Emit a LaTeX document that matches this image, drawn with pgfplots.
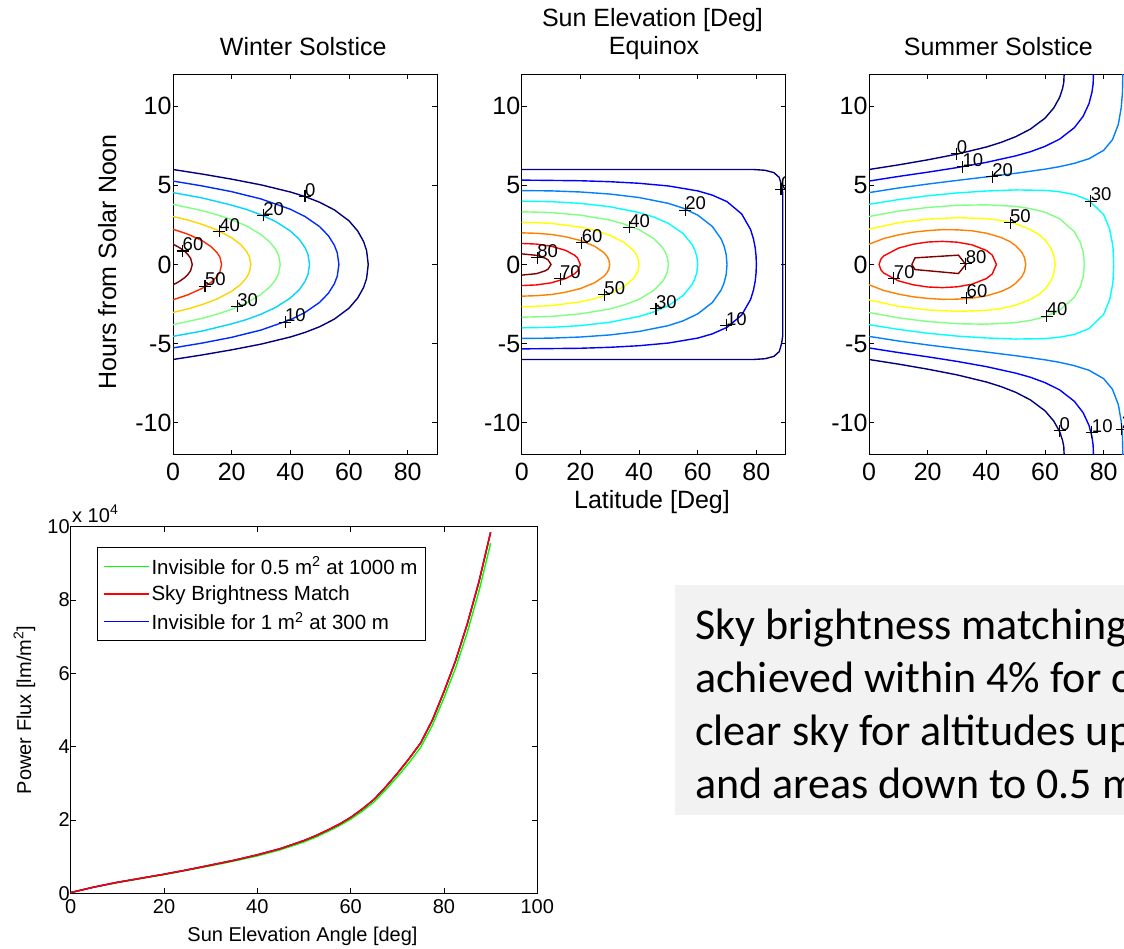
\documentclass[border=0pt]{standalone}
\usepackage{fontspec}
\setmainfont{Liberation Sans}
\newfontfamily\carlito{Carlito}
\usepackage{pgfplots}
\pgfplotsset{compat=1.18}

\definecolor{w0}{rgb}{0,0,0.5}
\definecolor{w10}{rgb}{0,0.167,1}
\definecolor{w20}{rgb}{0,0.833,1}
\definecolor{w30}{rgb}{0.5,1,0.5}
\definecolor{w40}{rgb}{1,0.833,0}
\definecolor{w50}{rgb}{1,0.167,0}
\definecolor{w60}{rgb}{0.5,0,0}
\definecolor{e0}{rgb}{0,0,0.5}
\definecolor{e10}{rgb}{0,0,1}
\definecolor{e20}{rgb}{0,0.5,1}
\definecolor{e30}{rgb}{0,1,1}
\definecolor{e40}{rgb}{0.5,1,0.5}
\definecolor{e50}{rgb}{1,1,0}
\definecolor{e60}{rgb}{1,0.5,0}
\definecolor{e70}{rgb}{1,0,0}
\definecolor{e80}{rgb}{0.5,0,0}
\definecolor{boxgray}{RGB}{242,242,242}

\newcommand{\topfont}{\fontsize{25}{30}\selectfont}
\newcommand{\botfont}{\fontsize{20}{24}\selectfont}
\newcommand{\legfont}{\fontsize{20.5}{24}\selectfont}
\newcommand{\lblfont}{\fontsize{18.5}{22}\selectfont}
\newcommand{\boxfont}{\carlito\fontsize{44}{53}\selectfont}

\pgfplotsset{
  contourax/.style={
    scale only axis, width=264pt, height=380pt, anchor=south west,
    xmin=0, xmax=90, ymin=-12, ymax=12,
    xtick={0,20,40,60,80}, xticklabels={0,20,40,60,80},
    ytick={-10,-5,0,5,10}, yticklabels={-10,-5,0,5,10},
    tick align=inside, major tick length=5pt,
    tick style={black, line width=0.8pt},
    axis line style={black, line width=0.9pt},
    tick label style={font=\topfont},
    xticklabel style={yshift=-5pt},
    yticklabel style={xshift=2pt},
    clip marker paths=true,
    every axis plot/.append style={line width=1.4pt},
  },
  lab/.style={only marks, mark=+, mark size=6pt, black, mark options={line width=1.1pt},
    nodes near coords, point meta=explicit symbolic,
    nodes near coords style={font=\lblfont, anchor=south west, inner sep=0.5pt, xshift=-1pt, yshift=-1pt, black}},
}

\begin{document}
\begin{tikzpicture}
\path[use as bounding box] (0pt,0pt) rectangle (1124pt,-949pt);
\clip (0pt,0pt) rectangle (1124pt,-949pt);
\fill[white] (0pt,0pt) rectangle (1124pt,-949pt);

% text box
\fill[boxgray] (675pt,-585pt) rectangle (1140pt,-815pt);
\node[anchor=base west, font=\boxfont, inner sep=0pt] at (695pt,-639pt) {Sky brightness matching};
\node[anchor=base west, font=\boxfont, inner sep=0pt] at (695pt,-692pt) {achieved within 4\% for c};
\node[anchor=base west, font=\boxfont, inner sep=0pt] at (695pt,-745pt) {clear sky for altitudes up};
\node[anchor=base west, font=\boxfont, inner sep=0pt] at (695pt,-798pt) {and areas down to 0.5 m};

% ---------------- Winter ----------------
\begin{axis}[contourax, at={(173pt,-454.5pt)}]
\addplot[w0] coordinates {(0,6.0)(10,5.71)(20,5.39)(30,5.03)(40,4.58)(45,4.29)(50,3.93)(55,3.45)(60,2.76)(63,2.11)(65,1.44)(66,0.88)(66.56,0)(66,-0.88)(65,-1.44)(63,-2.11)(60,-2.76)(55,-3.45)(50,-3.93)(45,-4.29)(40,-4.58)(30,-5.03)(20,-5.39)(10,-5.71)(0,-6.0)};
\addplot[w10] coordinates {(0,5.27)(10,4.96)(20,4.60)(30,4.14)(40,3.49)(45,3.03)(50,2.39)(53,1.81)(55,1.22)(56,0.74)(56.56,0)(56,-0.74)(55,-1.22)(53,-1.81)(50,-2.39)(45,-3.03)(40,-3.49)(30,-4.14)(20,-4.60)(10,-4.96)(0,-5.27)};
\addplot[w20] coordinates {(0,4.54)(10,4.20)(20,3.75)(25,3.48)(30,3.14)(35,2.71)(40,2.12)(43,1.60)(45,1.07)(46,0.65)(46.56,0)(46,-0.65)(45,-1.07)(43,-1.60)(40,-2.12)(35,-2.71)(30,-3.14)(25,-3.48)(20,-3.75)(10,-4.20)(0,-4.54)};
\addplot[w30] coordinates {(0,3.80)(10,3.40)(15,3.14)(20,2.83)(25,2.44)(30,1.89)(33,1.42)(35,0.96)(36,0.58)(36.56,0)(36,-0.58)(35,-0.96)(33,-1.42)(30,-1.89)(25,-2.44)(20,-2.83)(15,-3.14)(10,-3.40)(0,-3.80)};
\addplot[w40] coordinates {(0,3.03)(5,2.81)(10,2.53)(15,2.18)(20,1.69)(23,1.27)(25,0.85)(26,0.51)(26.56,0)(26,-0.51)(25,-0.85)(23,-1.27)(20,-1.69)(15,-2.18)(10,-2.53)(5,-2.81)(0,-3.03)};
\addplot[w50] coordinates {(0,2.23)(5,1.92)(10,1.50)(13,1.12)(15,0.75)(16,0.46)(16.56,0)(16,-0.46)(15,-0.75)(13,-1.12)(10,-1.50)(5,-1.92)(0,-2.23)};
\addplot[w60] coordinates {(0,1.28)(2,1.09)(4,0.83)(5,0.65)(6,0.39)(6.56,0)(6,-0.39)(5,-0.65)(4,-0.83)(2,-1.09)(0,-1.28)};
\addplot[lab] table[meta=l] {
x y l
45 4.3 0
30.8 3.1 20
15.8 2.1 40
3.3 0.85 60
10.9 -1.37 50
21.9 -2.65 30
38.2 -3.64 10
};
\end{axis}

% ---------------- Equinox ----------------
\begin{axis}[contourax, at={(521.7pt,-454.5pt)}]
\addplot[e0] coordinates {(0,6)(79,6)(83,5.95)(86,5.8)(87.8,5.5)(88.6,5)(89,4.5)(89,-4.5)(88.6,-5)(87.8,-5.5)(86,-5.8)(83,-5.95)(79,-6)(0,-6)};
\addplot[e10] coordinates {(0,5.33)(20,5.29)(30,5.23)(40,5.13)(50,4.96)(60,4.65)(65,4.38)(70,3.97)(75,3.19)(78,2.22)(79,1.63)(79.6,1.06)(79.9,0.54)(80,0)(79.9,-0.54)(79.6,-1.06)(79,-1.63)(78,-2.22)(75,-3.19)(70,-3.97)(65,-4.38)(60,-4.65)(50,-4.96)(40,-5.13)(30,-5.23)(20,-5.29)(0,-5.33)};
\addplot[e20] coordinates {(0,4.67)(10,4.65)(20,4.58)(30,4.45)(40,4.23)(50,3.86)(55,3.56)(60,3.12)(65,2.40)(68,1.61)(69,1.16)(69.7,0.64)(70,0)(69.7,-0.64)(69,-1.16)(68,-1.61)(65,-2.40)(60,-3.12)(55,-3.56)(50,-3.86)(40,-4.23)(30,-4.45)(20,-4.58)(10,-4.65)(0,-4.67)};
\addplot[e30] coordinates {(0,4.0)(10,3.97)(20,3.86)(30,3.65)(40,3.28)(45,3.0)(50,2.60)(55,1.96)(58,1.29)(59,0.93)(59.7,0.51)(60,0)(59.7,-0.51)(59,-0.93)(58,-1.29)(55,-1.96)(50,-2.60)(45,-3.0)(40,-3.28)(30,-3.65)(20,-3.86)(10,-3.97)(0,-4.0)};
\addplot[e40] coordinates {(0,3.33)(10,3.28)(20,3.12)(30,2.81)(35,2.55)(40,2.20)(45,1.64)(48,1.08)(49,0.77)(49.7,0.43)(50,0)(49.7,-0.43)(49,-0.77)(48,-1.08)(45,-1.64)(40,-2.20)(35,-2.55)(30,-2.81)(20,-3.12)(10,-3.28)(0,-3.33)};
\addplot[e50] coordinates {(0,2.67)(10,2.60)(20,2.36)(25,2.15)(30,1.85)(35,1.38)(38,0.90)(39,0.65)(39.7,0.36)(40,0)(39.7,-0.36)(39,-0.65)(38,-0.90)(35,-1.38)(30,-1.85)(25,-2.15)(20,-2.36)(10,-2.60)(0,-2.67)};
\addplot[e60] coordinates {(0,2.0)(5,1.97)(10,1.90)(15,1.75)(20,1.52)(25,1.14)(28,0.75)(29,0.54)(29.7,0.3)(30,0)(29.7,-0.3)(29,-0.54)(28,-0.75)(25,-1.14)(20,-1.52)(15,-1.75)(10,-1.90)(5,-1.97)(0,-2.0)};
\addplot[e70] coordinates {(0,1.33)(5,1.29)(10,1.16)(15,0.89)(18,0.59)(19,0.42)(20,0)(19,-0.42)(18,-0.59)(15,-0.89)(10,-1.16)(5,-1.29)(0,-1.33)};
\addplot[e80] coordinates {(0,0.67)(5,0.58)(8,0.40)(9,0.29)(10,0)(9,-0.29)(8,-0.40)(5,-0.58)(0,-0.67)};
\addplot[lab] table[meta=l] {
x y l
88.4 4.74 0
55.8 3.43 20
36.7 2.34 40
20.5 1.37 60
5.3 0.42 80
13.1 -0.9 70
28.2 -1.9 50
45.8 -2.8 30
69.7 -3.85 10
};
\end{axis}

% ---------------- Summer ----------------
\begin{axis}[contourax, at={(869pt,-454.5pt)}]
\addplot[e0] coordinates {(0,6.0)(10,6.29)(20,6.61)(30,6.97)(40,7.42)(45,7.71)(50,8.07)(55,8.55)(60,9.24)(63,9.89)(65,10.56)(66,11.12)(66.4,11.5)(66.56,12.2)};
\addplot[e0] coordinates {(0,-6.0)(10,-6.29)(20,-6.61)(30,-6.97)(40,-7.42)(45,-7.71)(50,-8.07)(55,-8.55)(60,-9.24)(63,-9.89)(65,-10.56)(66,-11.12)(66.4,-11.5)(66.56,-12.2)};
\addplot[e10] coordinates {(0,5.27)(10,5.56)(20,5.83)(25.9,6.0)(30,6.12)(40,6.45)(50,6.86)(55,7.12)(60,7.46)(65,7.92)(70,8.64)(73,9.36)(75,10.16)(76,10.87)(76.4,11.39)(76.56,12.2)};
\addplot[e10] coordinates {(0,-5.27)(10,-5.56)(20,-5.83)(25.9,-6.0)(30,-6.12)(40,-6.45)(50,-6.86)(55,-7.12)(60,-7.46)(65,-7.92)(70,-8.64)(73,-9.36)(75,-10.16)(76,-10.87)(76.4,-11.39)(76.56,-12.2)};
\addplot[e20] coordinates {(0,4.54)(10,4.83)(20,5.08)(30,5.31)(40,5.53)(50,5.76)(60,6.02)(65,6.18)(70,6.39)(75,6.68)(80,7.21)(83,7.88)(85,8.85)(86,9.92)(86.4,10.84)(86.56,12.2)};
\addplot[e20] coordinates {(0,-4.54)(10,-4.83)(20,-5.08)(30,-5.31)(40,-5.53)(50,-5.76)(60,-6.02)(65,-6.18)(70,-6.39)(75,-6.68)(80,-7.21)(83,-7.88)(85,-8.85)(86,-9.92)(86.4,-10.84)(86.56,-12.2)};
\addplot[e30] coordinates {(0,3.80)(10,4.10)(20,4.34)(30,4.52)(40,4.64)(50,4.71)(60,4.68)(65,4.59)(70,4.42)(75,4.05)(80,3.15)(82,2.25)(83,1.32)(83.2,0.99)(83.44,0)(83.2,-0.99)(83,-1.32)(82,-2.25)(80,-3.15)(75,-4.05)(70,-4.42)(65,-4.59)(60,-4.68)(50,-4.71)(40,-4.64)(30,-4.52)(20,-4.34)(10,-4.10)(0,-3.80)};
\addplot[e40] coordinates {(0,3.03)(10,3.37)(20,3.60)(30,3.74)(40,3.77)(50,3.67)(55,3.53)(60,3.30)(65,2.89)(70,2.07)(72,1.41)(73,0.80)(73.44,0)(73,-0.80)(72,-1.41)(70,-2.07)(65,-2.89)(60,-3.30)(55,-3.53)(50,-3.67)(40,-3.77)(30,-3.74)(20,-3.60)(10,-3.37)(0,-3.03)};
\addplot[e50] coordinates {(0,2.23)(10,2.64)(20,2.87)(30,2.96)(40,2.90)(45,2.78)(50,2.57)(55,2.21)(58,1.88)(60,1.55)(62,1.04)(63,0.59)(63.44,0)(63,-0.59)(62,-1.04)(60,-1.55)(58,-1.88)(55,-2.21)(50,-2.57)(45,-2.78)(40,-2.90)(30,-2.96)(20,-2.87)(10,-2.64)(0,-2.23)};
\addplot[e60] coordinates {(0,1.28)(5,1.64)(10,1.87)(15,2.04)(20,2.14)(25,2.20)(30,2.19)(35,2.13)(40,1.98)(45,1.71)(48,1.45)(50,1.19)(52,0.80)(53,0.45)(53.44,0)(53,-0.45)(52,-0.80)(50,-1.19)(48,-1.45)(45,-1.71)(40,-1.98)(35,-2.13)(30,-2.19)(25,-2.20)(20,-2.14)(15,-2.04)(10,-1.87)(5,-1.64)(0,-1.28)};
\addplot[e70] coordinates {(3.44,0)(4,0.32)(5,0.54)(10,1.03)(15,1.28)(20,1.42)(25,1.46)(30,1.41)(35,1.25)(40,0.89)(42,0.60)(43.44,0)(42,-0.60)(40,-0.89)(35,-1.25)(30,-1.41)(25,-1.46)(20,-1.42)(15,-1.28)(10,-1.03)(5,-0.54)(4,-0.32)(3.44,0)};
\addplot[e80] coordinates {(14.6,0)(15.7,0.42)(30.5,0.59)(33,0)(30.5,-0.57)(15.7,-0.32)(14.6,0)};
\addplot[lab] table[meta=l] {
x y l
29.9 7.0 0
31.9 6.17 10
42.0 5.53 20
75.6 4.0 30
48.1 2.65 50
33.0 0.06 80
8.5 -0.88 70
33.3 -2.1 60
60.6 -3.26 40
65 -10.5 0
76 -10.6 10
86.2 -10.4 20
};
\end{axis}

% ---------------- Power flux ----------------
\begin{axis}[scale only axis, width=466.6pt, height=366.6pt, anchor=south west,
  at={(70.7pt,-893.3pt)},
  xmin=0, xmax=100, ymin=0, ymax=10,
  xtick={0,20,40,60,80,100}, xticklabels={0,20,40,60,80,100},
  ytick={0,2,4,6,8,10}, yticklabels={0,2,4,6,8,10},
  tick align=inside, major tick length=5pt,
  tick style={black, line width=0.8pt},
  axis line style={black, line width=0.9pt},
  tick label style={font=\botfont},
  xticklabel style={yshift=-3pt},
  yticklabel style={xshift=2.5pt},
  legend style={at={(0.0557,0.9438)}, anchor=north west, font=\legfont,
    draw=black, line width=0.9pt, inner xsep=6pt, inner ysep=7pt, row sep=6pt},
  legend cell align=left,
  legend image code/.code={\draw[#1, line width=1.4pt] (0pt,0pt) -- (45pt,0pt);},
  every axis plot/.append style={line width=1.4pt},
]
\addplot[green] coordinates {(0,0.02)(5,0.17)(10,0.29)(15,0.40)(20,0.51)(25,0.63)(30,0.75)(35,0.88)(40,1.02)(45,1.19)(50,1.40)(52.5,1.53)(55,1.68)(57.5,1.84)(60,2.02)(62.5,2.24)(65,2.49)(67.5,2.82)(70,3.18)(72.5,3.56)(75,3.98)(77.5,4.58)(80,5.33)(82.5,6.15)(85,7.12)(87.5,8.24)(90,9.55)};
\addlegendentry{Invisible for 0.5 m\textsuperscript{2} at 1000 m}
\addplot[red] coordinates {(0,0.02)(5,0.17)(10,0.30)(15,0.41)(20,0.52)(25,0.64)(30,0.77)(35,0.90)(40,1.05)(45,1.22)(50,1.44)(52.5,1.57)(55,1.72)(57.5,1.88)(60,2.07)(62.5,2.30)(65,2.56)(67.5,2.90)(70,3.27)(72.5,3.67)(75,4.10)(77.5,4.72)(80,5.50)(82.5,6.35)(85,7.35)(87.5,8.50)(90,9.85)};
\addlegendentry{Sky Brightness Match}
\addplot[blue] coordinates {(0,0.02)(5,0.17)(10,0.30)(15,0.41)(20,0.52)(25,0.64)(30,0.77)(35,0.90)(40,1.05)(45,1.22)(50,1.44)(52.5,1.57)(55,1.72)(57.5,1.88)(60,2.07)(62.5,2.30)(65,2.56)(67.5,2.90)(70,3.27)(72.5,3.67)(75,4.10)(77.5,4.72)(80,5.50)(82.5,6.35)(85,7.35)(87.5,8.50)(90,9.85)};
\addlegendentry{Invisible for 1 m\textsuperscript{2} at 300 m}
\addplot[red, forget plot] coordinates {(0,0.02)(5,0.17)(10,0.30)(15,0.41)(20,0.52)(25,0.64)(30,0.77)(35,0.90)(40,1.05)(45,1.22)(50,1.44)(52.5,1.57)(55,1.72)(57.5,1.88)(60,2.07)(62.5,2.30)(65,2.56)(67.5,2.90)(70,3.27)(72.5,3.67)(75,4.10)(77.5,4.72)(80,5.50)(82.5,6.35)(85,7.35)(87.5,8.50)(90,9.85)};
\end{axis}

% ---------------- texts ----------------
\node[anchor=base, font=\topfont] at (303.3pt,-56pt) {Winter Solstice};
\node[anchor=base, font=\topfont] at (652.5pt,-26.5pt) {Sun Elevation [Deg]};
\node[anchor=base, font=\topfont] at (654pt,-55pt) {Equinox};
\node[anchor=base, font=\topfont] at (998.3pt,-56pt) {Summer Solstice};
\node[anchor=base, font=\topfont] at (652pt,-508pt) {Latitude [Deg]};
\node[anchor=base, rotate=90, font=\topfont] at (116pt,-262pt) {Hours from Solar Noon};
\node[anchor=base, rotate=90, font=\botfont] at (31pt,-710pt) {Power Flux [lm/m\textsuperscript{2}]};
\node[anchor=base, font=\botfont] at (302.5pt,-941pt) {Sun Elevation Angle [deg]};
\node[anchor=base west, font=\botfont, inner sep=0pt] at (72pt,-522pt) {x 10\textsuperscript{4}};
\end{tikzpicture}
\end{document}
